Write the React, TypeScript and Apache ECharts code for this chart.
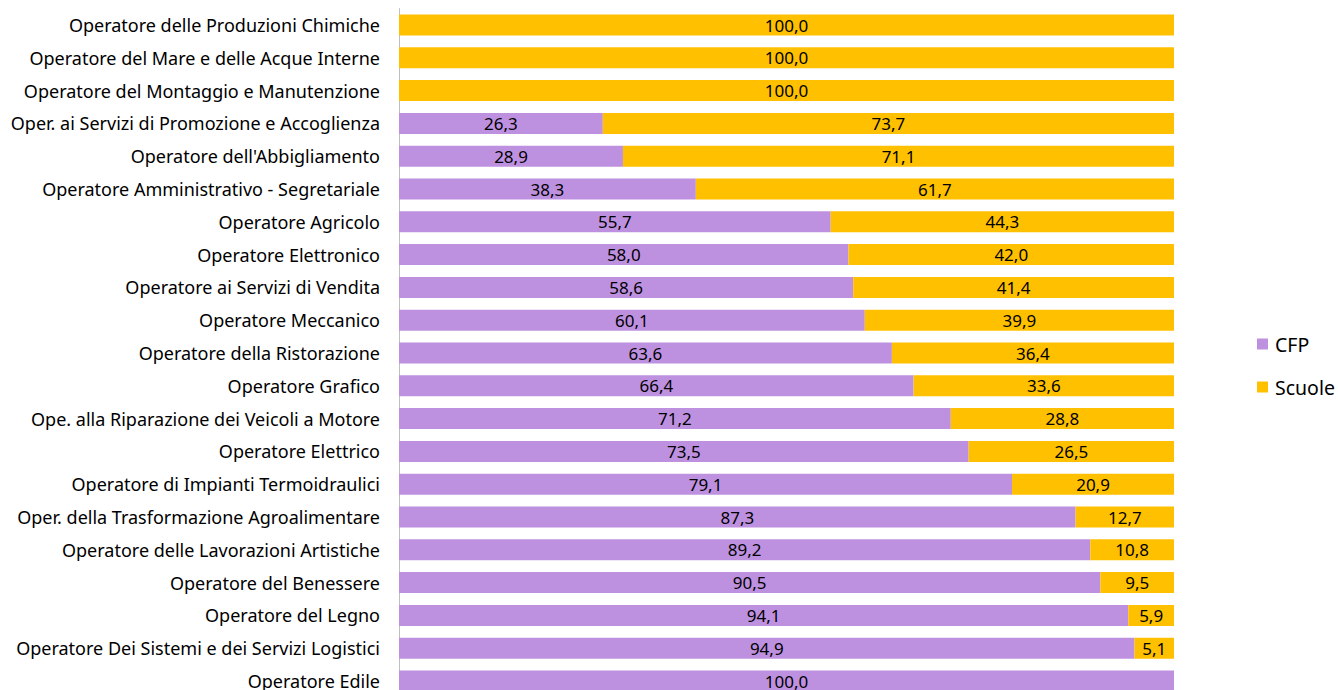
import React, { useEffect, useRef } from "react";
import * as echarts from "echarts";

const categories = [
  "Operatore delle Produzioni Chimiche",
  "Operatore del Mare e delle Acque Interne",
  "Operatore del Montaggio e Manutenzione",
  "Oper. ai Servizi di Promozione e Accoglienza",
  "Operatore dell'Abbigliamento",
  "Operatore Amministrativo - Segretariale",
  "Operatore Agricolo",
  "Operatore Elettronico",
  "Operatore ai Servizi di Vendita",
  "Operatore Meccanico",
  "Operatore della Ristorazione",
  "Operatore Grafico",
  "Ope. alla Riparazione dei Veicoli a Motore",
  "Operatore Elettrico",
  "Operatore di Impianti Termoidraulici",
  "Oper. della Trasformazione Agroalimentare",
  "Operatore delle Lavorazioni Artistiche",
  "Operatore del Benessere",
  "Operatore del Legno",
  "Operatore Dei Sistemi e dei Servizi Logistici",
  "Operatore Edile",
];

const cfpValues = [0, 0, 0, 26.3, 28.9, 38.3, 55.7, 58.0, 58.6, 60.1, 63.6, 66.4, 71.2, 73.5, 79.1, 87.3, 89.2, 90.5, 94.1, 94.9, 100.0];
const scuoleValues = [100.0, 100.0, 100.0, 73.7, 71.1, 61.7, 44.3, 42.0, 41.4, 39.9, 36.4, 33.6, 28.8, 26.5, 20.9, 12.7, 10.8, 9.5, 5.9, 5.1, 0];

const seriesNames = ["CFP", "Scuole"];
const FONT = "'Noto Sans', 'Open Sans', sans-serif";

const fmt = (p: any) => (p.value > 0 ? Number(p.value).toFixed(1).replace(".", ",") : "");

export default function App() {
  const ref = useRef<HTMLDivElement>(null);
  useEffect(() => {
    if (!ref.current) return;
    const chart = echarts.init(ref.current, undefined, { renderer: "svg" });
    const label = {
      show: true,
      position: "inside" as const,
      color: "#000",
      fontSize: 17,
      fontFamily: FONT,
      formatter: fmt,
    };
    chart.setOption({
      animation: false,
      grid: { left: 399, right: 164, top: 8.6, height: 688.8, containLabel: false },
      legend: {
        orient: "vertical",
        left: 1252,
        top: 329,
        itemWidth: 11,
        itemHeight: 11,
        itemGap: 23,
        icon: "rect",
        textStyle: { fontSize: 19.5, fontFamily: FONT, color: "#000", padding: [0, 0, 0, 2] },
        data: seriesNames,
      },
      xAxis: {
        type: "value",
        min: 0,
        max: 100,
        show: false,
      },
      yAxis: {
        type: "category",
        inverse: true,
        data: categories,
        axisLine: { show: true, lineStyle: { color: "#bfbfbf", width: 1 } },
        axisTick: { show: false },
        axisLabel: { color: "#000", fontSize: 18, fontFamily: FONT, margin: 19 },
      },
      series: [
        {
          name: seriesNames[0],
          type: "bar",
          stack: "total",
          data: cfpValues,
          barCategoryGap: "36%",
          itemStyle: { color: "#BE91E0" },
          label,
        },
        {
          name: seriesNames[1],
          type: "bar",
          stack: "total",
          data: scuoleValues,
          barCategoryGap: "36%",
          itemStyle: { color: "#FFC000" },
          label,
        },
      ],
    });
    return () => chart.dispose();
  }, []);
  return (
    <div style={{ position: "absolute", left: 0, top: 0, width: 1338, height: 690, overflow: "hidden", background: "#fff" }}>
      <div ref={ref} style={{ width: 1338, height: 700 }} />
    </div>
  );
}
